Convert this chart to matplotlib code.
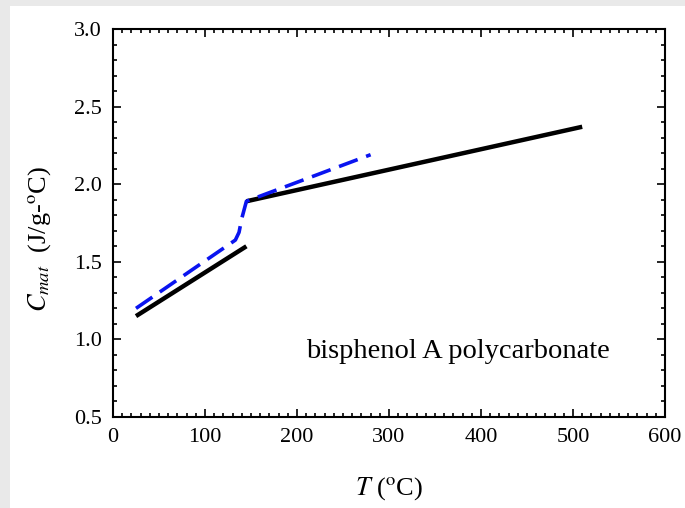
import matplotlib
matplotlib.use("Agg")
import matplotlib.pyplot as plt
from matplotlib.patches import Rectangle
from matplotlib.ticker import MultipleLocator

# black curve: glassy and rubbery segments
glass_t = [25, 145]
glass_c = [1.15, 1.60]
rubber_t = [145, 510]
rubber_c = [1.89, 2.37]

# blue dashed curve
blue_t = [25, 133, 137, 140, 145, 280]
blue_c = [1.20, 1.64, 1.69, 1.78, 1.89, 2.19]

plt.rcParams['font.family'] = ['Liberation Serif', 'DejaVu Serif']
plt.rcParams['mathtext.fontset'] = 'stix'

fig = plt.figure(figsize=(6.85, 5.08), dpi=100)
fig.patch.set_facecolor('#e9e9e9')
fig.add_artist(Rectangle((10 / 685, 0), 1, 1 - 6 / 508, transform=fig.transFigure,
                         facecolor='white', edgecolor='none', zorder=-10))

ax = fig.add_axes([113 / 685, 1 - 417 / 508, 552 / 685, 388 / 508])
ax.set_zorder(1)
ax.plot(glass_t, glass_c, color='black', lw=3.2, solid_capstyle='butt')
ax.plot(rubber_t, rubber_c, color='black', lw=3.2, solid_capstyle='butt')
ax.plot(blue_t, blue_c, color='#0a14f0', lw=2.6, dashes=(5.5, 2.5))

ax.set_xlim(0, 600)
ax.set_ylim(0.5, 3.0)
ax.xaxis.set_major_locator(MultipleLocator(100))
ax.xaxis.set_minor_locator(MultipleLocator(10))
ax.yaxis.set_major_locator(MultipleLocator(0.5))
ax.yaxis.set_minor_locator(MultipleLocator(0.1))
ax.yaxis.set_major_formatter(matplotlib.ticker.FormatStrFormatter('%.1f'))
ax.tick_params(which='both', direction='in', top=True, right=True, width=1.2)
ax.tick_params(which='major', length=6, labelsize=16, pad=8)
ax.tick_params(which='minor', length=3)
for s in ax.spines.values():
    s.set_linewidth(1.5)

ax.text(0.35, 0.152, 'bisphenol A polycarbonate', transform=ax.transAxes, fontsize=20.5)
ax.set_xlabel(r'$T$ ($^{\rm o}$C)', fontsize=19, labelpad=20)
ax.set_ylabel(r'$C_{mat}$  (J/g-$^{\rm o}$C)', fontsize=19)
ax.yaxis.set_label_coords(-0.108, 0.46)

fig.savefig('out.png', dpi=100, facecolor=fig.get_facecolor())
